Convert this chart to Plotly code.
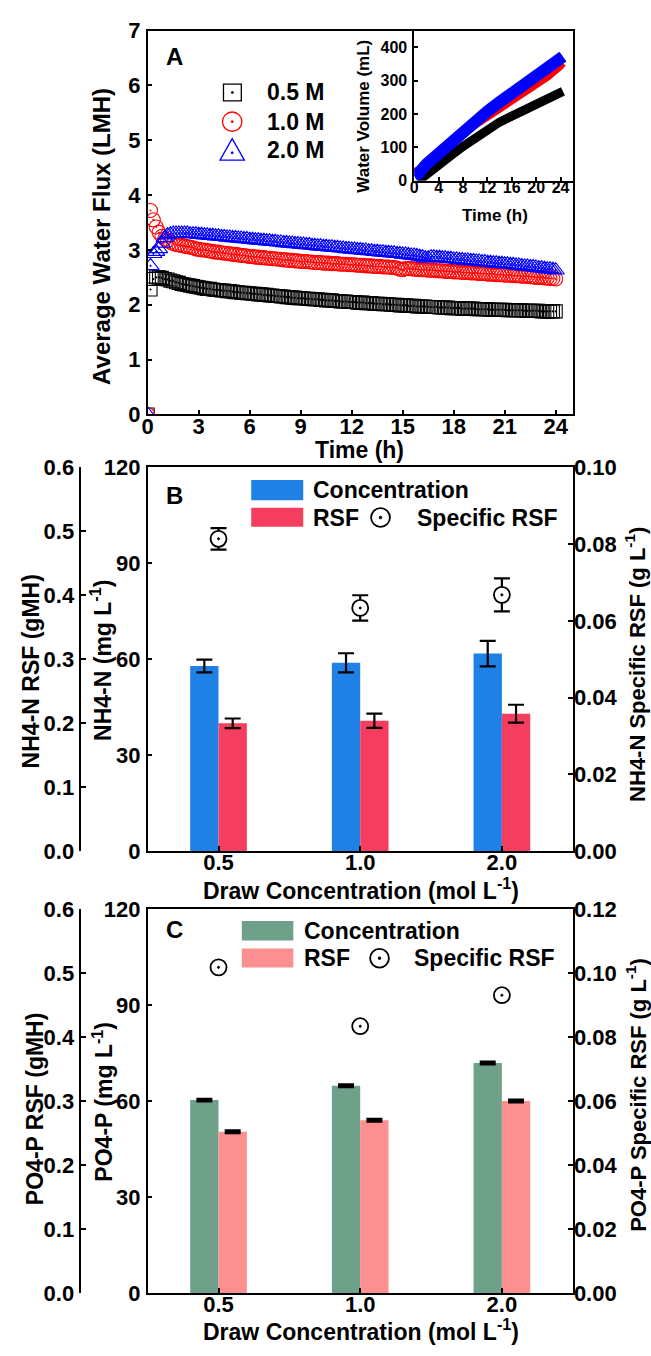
import plotly.graph_objects as go

W, H = 651, 1356
FONT = "Liberation Sans, Arial, sans-serif"


def px(x):
    return x / W


def py(y):
    return 1 - y / H


# ---------------- Panel A data ----------------
time_h = [round(k / 6, 3) for k in range(145)]  # sampling every 10 min

flux_05M = [0.0,
    2.28, 2.47, 2.50, 2.50, 2.49, 2.47,
    2.46, 2.44, 2.43, 2.41, 2.40, 2.38,
    2.37, 2.36, 2.35, 2.34, 2.33, 2.32,
    2.31, 2.30, 2.29, 2.29, 2.28, 2.27,
    2.27, 2.26, 2.26, 2.25, 2.25, 2.24,
    2.23, 2.23, 2.22, 2.22, 2.21, 2.21,
    2.20, 2.20, 2.19, 2.19, 2.18, 2.18,
    2.17, 2.17, 2.16, 2.16, 2.15, 2.15,
    2.14, 2.14, 2.13, 2.13, 2.12, 2.12,
    2.12, 2.11, 2.11, 2.10, 2.10, 2.10,
    2.09, 2.09, 2.08, 2.08, 2.08, 2.07,
    2.07, 2.06, 2.06, 2.06, 2.05, 2.05,
    2.05, 2.04, 2.04, 2.04, 2.03, 2.03,
    2.03, 2.02, 2.02, 2.02, 2.01, 2.01,
    2.01, 2.00, 2.00, 2.00, 1.99, 1.99,
    1.99, 1.98, 1.98, 1.98, 1.97, 1.97,
    1.97, 1.97, 1.96, 1.96, 1.96, 1.96,
    1.95, 1.95, 1.95, 1.95, 1.94, 1.94,
    1.94, 1.94, 1.93, 1.93, 1.93, 1.93,
    1.93, 1.92, 1.92, 1.92, 1.92, 1.92,
    1.91, 1.91, 1.91, 1.91, 1.91, 1.91,
    1.90, 1.90, 1.90, 1.90, 1.90, 1.90,
    1.89, 1.89, 1.89, 1.89, 1.89, 1.89,
    1.88, 1.88, 1.88, 1.88, 1.88, 1.88]

flux_10M = [0.0,
    3.72, 3.55, 3.42, 3.32, 3.25, 3.20,
    3.17, 3.14, 3.12, 3.10, 3.09, 3.08,
    3.07, 3.06, 3.05, 3.04, 3.02, 3.01,
    3.00, 3.00, 2.99, 2.98, 2.97, 2.96,
    2.96, 2.95, 2.94, 2.94, 2.93, 2.92,
    2.92, 2.91, 2.90, 2.90, 2.89, 2.88,
    2.88, 2.87, 2.87, 2.86, 2.86, 2.85,
    2.85, 2.84, 2.84, 2.83, 2.83, 2.82,
    2.82, 2.81, 2.81, 2.80, 2.80, 2.79,
    2.79, 2.79, 2.78, 2.78, 2.77, 2.77,
    2.77, 2.76, 2.76, 2.76, 2.75, 2.75,
    2.75, 2.74, 2.74, 2.74, 2.73, 2.73,
    2.73, 2.72, 2.72, 2.72, 2.71, 2.71,
    2.71, 2.70, 2.70, 2.70, 2.69, 2.69,
    2.69, 2.68, 2.68, 2.67, 2.65, 2.64,
    2.66, 2.66, 2.66, 2.65, 2.65, 2.64,
    2.64, 2.64, 2.63, 2.63, 2.63, 2.62,
    2.62, 2.62, 2.61, 2.61, 2.61, 2.60,
    2.60, 2.60, 2.59, 2.59, 2.59, 2.58,
    2.58, 2.58, 2.57, 2.57, 2.57, 2.56,
    2.56, 2.56, 2.55, 2.55, 2.55, 2.54,
    2.54, 2.54, 2.53, 2.53, 2.53, 2.52,
    2.52, 2.52, 2.51, 2.51, 2.50, 2.50,
    2.50, 2.49, 2.49, 2.48, 2.48, 2.47]

flux_20M = [0.0,
    2.71, 2.93, 2.97, 3.02, 3.12, 3.22,
    3.27, 3.29, 3.30, 3.30, 3.30, 3.30,
    3.30, 3.30, 3.29, 3.29, 3.29, 3.28,
    3.28, 3.27, 3.27, 3.26, 3.26, 3.25,
    3.25, 3.24, 3.24, 3.23, 3.23, 3.22,
    3.22, 3.21, 3.21, 3.20, 3.20, 3.19,
    3.19, 3.18, 3.18, 3.17, 3.17, 3.16,
    3.16, 3.15, 3.15, 3.14, 3.14, 3.13,
    3.13, 3.12, 3.12, 3.11, 3.11, 3.10,
    3.10, 3.09, 3.09, 3.08, 3.08, 3.07,
    3.07, 3.06, 3.06, 3.05, 3.05, 3.04,
    3.04, 3.03, 3.03, 3.02, 3.02, 3.01,
    3.01, 3.00, 3.00, 2.99, 2.99, 2.98,
    2.98, 2.97, 2.97, 2.96, 2.96, 2.95,
    2.95, 2.94, 2.94, 2.93, 2.93, 2.92,
    2.92, 2.91, 2.90, 2.90, 2.89, 2.88,
    2.87, 2.85, 2.85, 2.87, 2.87, 2.86,
    2.86, 2.85, 2.85, 2.84, 2.84, 2.83,
    2.83, 2.82, 2.82, 2.81, 2.81, 2.80,
    2.80, 2.79, 2.79, 2.78, 2.78, 2.77,
    2.77, 2.76, 2.76, 2.75, 2.75, 2.74,
    2.74, 2.73, 2.73, 2.72, 2.72, 2.71,
    2.70, 2.70, 2.69, 2.69, 2.68, 2.67,
    2.67, 2.66, 2.65, 2.65, 2.64, 2.63]

# Inset: cumulative water volume (mL)
inset_time = [0, 0.7, 2, 4, 6, 8, 10, 12, 14, 16, 18, 20, 22, 24, 24.4]
vol_05M = [None, 0, 20, 45, 75, 103, 130, 155, 176, 194, 212, 229, 246, 262, 268]
vol_10M = [28, 33, 56, 86, 114, 140, 166, 190, 215, 240, 264, 288, 312, 343, 352]
vol_20M = [14, 22, 50, 84, 117, 149, 179, 208, 236, 262, 288, 313, 338, 364, 372]

# ---------------- Panel B / C data ----------------
categories = ["0.5", "1.0", "2.0"]
cat_pos = [1, 2, 3]

nh4_conc = [57.9, 58.9, 61.8]
nh4_conc_err = [2.0, 3.0, 4.0]
nh4_rsf = [0.200, 0.204, 0.215]
nh4_rsf_err = [0.0075, 0.011, 0.014]
nh4_spec = [0.0814, 0.0634, 0.0668]
nh4_spec_err = [0.0028, 0.0033, 0.0043]

po4_conc = [60.3, 64.8, 71.9]
po4_conc_err = [0.3, 0.3, 0.3]
po4_rsf = [0.252, 0.270, 0.300]
po4_rsf_err = [0.0015, 0.0015, 0.0015]
po4_spec = [0.1018, 0.0834, 0.0931]

BLUE_B = "#1F80E6"
RED_B = "#F53D60"
GREEN_C = "#6FA08A"
PINK_C = "#FC8F8F"

fig = go.Figure()

# Panel A scatter
series = [
    (flux_05M, "square-open-dot", "black", 13),
    (flux_10M, "circle-open-dot", "red", 14),
    (flux_20M, "triangle-up-open-dot", "blue", 15),
]
for ys, sym, col, sz in series:
    fig.add_trace(go.Scatter(
        x=time_h, y=ys, mode="markers", xaxis="x", yaxis="y",
        marker=dict(symbol=sym, size=sz, color=col, line=dict(width=1.1, color=col)),
        showlegend=False, hoverinfo="skip"))

# Inset lines
for ys, col, w in [(vol_05M, "black", 9), (vol_10M, "red", 7), (vol_20M, "blue", 12)]:
    fig.add_trace(go.Scatter(
        x=inset_time, y=ys, mode="lines", xaxis="x2", yaxis="y2",
        line=dict(color=col, width=w), showlegend=False, hoverinfo="skip"))

# Panel B
fig.add_trace(go.Bar(
    x=cat_pos, y=nh4_conc, width=0.2, offset=-0.2, xaxis="x3", yaxis="y3",
    marker=dict(color=BLUE_B, line=dict(width=0)),
    error_y=dict(type="data", array=nh4_conc_err, color="black", thickness=2.2, width=8),
    showlegend=False))
fig.add_trace(go.Bar(
    x=cat_pos, y=nh4_rsf, width=0.2, offset=0.0, xaxis="x3", yaxis="y4",
    marker=dict(color=RED_B, line=dict(width=0)),
    error_y=dict(type="data", array=nh4_rsf_err, color="black", thickness=2.2, width=8),
    showlegend=False))
fig.add_trace(go.Scatter(
    x=cat_pos, y=nh4_spec, mode="markers", xaxis="x3", yaxis="y5",
    marker=dict(symbol="circle-dot", size=16, color="white", line=dict(width=1.8, color="black")),
    error_y=dict(type="data", array=nh4_spec_err, color="black", thickness=2.2, width=8),
    showlegend=False))

# Panel C
fig.add_trace(go.Bar(
    x=cat_pos, y=po4_conc, width=0.2, offset=-0.2, xaxis="x4", yaxis="y6",
    marker=dict(color=GREEN_C, line=dict(width=0)),
    error_y=dict(type="data", array=po4_conc_err, color="black", thickness=3, width=8),
    showlegend=False))
fig.add_trace(go.Bar(
    x=cat_pos, y=po4_rsf, width=0.2, offset=0.0, xaxis="x4", yaxis="y7",
    marker=dict(color=PINK_C, line=dict(width=0)),
    error_y=dict(type="data", array=po4_rsf_err, color="black", thickness=3, width=8),
    showlegend=False))
fig.add_trace(go.Scatter(
    x=cat_pos, y=po4_spec, mode="markers", xaxis="x4", yaxis="y8",
    marker=dict(symbol="circle-dot", size=16, color="white", line=dict(width=1.8, color="black")),
    showlegend=False))


def tf(size):
    return dict(family=FONT, size=size, color="black", weight="bold")


base = dict(showline=True, linecolor="black", linewidth=1.5, ticks="inside",
            ticklen=5, tickwidth=1.5, tickcolor="black", showgrid=False,
            zeroline=False)

XD = [px(143), px(572)]
YA = [py(410), py(19)]
YB = [py(855), py(464)]
YC = [py(1305), py(914)]

XSO = -9   # x tick label standoff (pull labels up toward axis)
RSO = -5   # right-axis label standoff

fig.update_layout(
    width=W, height=H, autosize=False,
    margin=dict(l=0, r=0, t=0, b=0),
    paper_bgcolor="white", plot_bgcolor="rgba(0,0,0,0)",
    barmode="overlay",
    font=dict(family=FONT, color="black", weight="bold"),
    xaxis=dict(base, domain=XD, anchor="y", range=[0, 25],
               tickvals=[0, 3, 6, 9, 12, 15, 18, 21, 24], mirror=True,
               tickfont=tf(22), ticklabelstandoff=XSO),
    yaxis=dict(base, domain=YA, anchor="x", range=[0, 7],
               tickvals=[0, 1, 2, 3, 4, 5, 6, 7], mirror=True,
               tickfont=tf(22), ticklabelstandoff=1),
    xaxis2=dict(base, domain=[px(412), px(572)], anchor="y2", range=[0, 26],
                tickvals=[0, 4, 8, 12, 16, 20, 24], tickfont=tf(16),
                ticklen=4, ticklabelstandoff=XSO),
    yaxis2=dict(base, domain=[py(172), py(19)], anchor="x2", range=[0, 450],
                tickvals=[0, 100, 200, 300, 400], tickfont=tf(16),
                ticklen=4, ticklabelstandoff=2),
    xaxis3=dict(base, domain=XD, anchor="y3", range=[0.5, 3.5],
                tickvals=cat_pos, ticktext=categories, mirror=True,
                tickfont=tf(22), ticklabelstandoff=XSO),
    yaxis3=dict(base, domain=YB, anchor="x3", range=[0, 120],
                tickvals=[0, 30, 60, 90, 120], tickfont=tf(22), ticklabelstandoff=1),
    yaxis4=dict(base, overlaying="y3", anchor="free", position=px(75), side="left",
                range=[0, 0.6], tickvals=[0, 0.1, 0.2, 0.3, 0.4, 0.5, 0.6],
                tickformat=".1f", tickfont=tf(22), ticklabelstandoff=1),
    yaxis5=dict(base, overlaying="y3", anchor="x3", side="right",
                range=[0, 0.1], tickvals=[0, 0.02, 0.04, 0.06, 0.08, 0.10],
                tickformat=".2f", tickfont=tf(22), ticklabelstandoff=RSO),
    xaxis4=dict(base, domain=XD, anchor="y6", range=[0.5, 3.5],
                tickvals=cat_pos, ticktext=categories, mirror=True,
                tickfont=tf(22), ticklabelstandoff=XSO),
    yaxis6=dict(base, domain=YC, anchor="x4", range=[0, 120],
                tickvals=[0, 30, 60, 90, 120], tickfont=tf(22), ticklabelstandoff=1),
    yaxis7=dict(base, overlaying="y6", anchor="free", position=px(75), side="left",
                range=[0, 0.6], tickvals=[0, 0.1, 0.2, 0.3, 0.4, 0.5, 0.6],
                tickformat=".1f", tickfont=tf(22), ticklabelstandoff=1),
    yaxis8=dict(base, overlaying="y6", anchor="x4", side="right",
                range=[0, 0.12], tickvals=[0, 0.02, 0.04, 0.06, 0.08, 0.10, 0.12],
                tickformat=".2f", tickfont=tf(22), ticklabelstandoff=RSO),
)

ann = []


def text(s, x, y, size, angle=0, xanchor="center"):
    ann.append(dict(text=s, x=px(x), y=py(y), xref="paper", yref="paper",
                    showarrow=False, textangle=angle, xanchor=xanchor,
                    yanchor="middle", font=tf(size)))


# Axis titles
text("Average Water Flux (LMH)", 97, 229, 24, -90)
text("Time (h)", 357, 446, 23)
text("Water Volume (mL)", 360, 106, 17, -90)
text("Time (h)", 494, 207, 17)

text("NH4-N RSF (gMH)", 25, 672, 23, -90)
text("NH4-N (mg L<sup>-1</sup>)", 96, 661, 23, -90)
text("NH4-N Specific RSF (g L<sup>-1</sup>)", 635, 665, 22, -90)
text("Draw Concentration (mol L<sup>-1</sup>)", 358, 893, 23)

text("PO4-P RSF (gMH)", 30, 1117, 23, -90)
text("PO4-P (mg L<sup>-1</sup>)", 97, 1110, 23, -90)
text("PO4-P Specific RSF (g L<sup>-1</sup>)", 636, 1103, 22, -90)
text("Draw Concentration (mol L<sup>-1</sup>)", 358, 1343, 23)

# Panel labels
text("A", 170.5, 45, 24)
text("B", 170.5, 493, 24)
text("C", 170.5, 935, 24)

# Panel A legend text
text("0.5 M", 261.7, 82, 23, xanchor="left")
text("1.0 M", 261.7, 112, 23, xanchor="left")
text("2.0 M", 261.7, 141, 23, xanchor="left")

# Panel B legend text
text("Concentration", 307.5, 487, 23, xanchor="left")
text("RSF", 307.5, 515, 23, xanchor="left")
text("Specific RSF", 412.5, 515, 23, xanchor="left")

# Panel C legend text
text("Concentration", 299, 936.7, 23, xanchor="left")
text("RSF", 299, 964, 23, xanchor="left")
text("Specific RSF", 410, 964, 23, xanchor="left")

shapes = []


def rect(x0, y0, x1, y1, fill=None, line=None, lw=1.3):
    shapes.append(dict(type="rect", xref="paper", yref="paper",
                       x0=px(x0), x1=px(x1), y0=py(y1), y1=py(y0),
                       fillcolor=fill if fill else "rgba(0,0,0,0)",
                       line=dict(color=line if line else "rgba(0,0,0,0)", width=lw if line else 0)))


def circ(cx, cy, r, color, lw=1.3, fill=None):
    shapes.append(dict(type="circle", xref="paper", yref="paper",
                       x0=px(cx - r), x1=px(cx + r), y0=py(cy + r), y1=py(cy - r),
                       fillcolor=fill if fill else "rgba(0,0,0,0)",
                       line=dict(color=color, width=lw)))


# Legend A symbols
rect(219.5, 73.5, 237.5, 90.5, line="black", lw=1.3)
circ(228.5, 82, 1.0, "black", lw=1, fill="black")
circ(228.3, 111.7, 9.8, "red", lw=1.3)
circ(228.3, 111.7, 1.0, "red", lw=1, fill="red")
tri = "M {} {} L {} {} L {} {} Z".format(px(228.3), py(129), px(216), py(151), px(240.6), py(151))
shapes.append(dict(type="path", xref="paper", yref="paper", path=tri,
                   line=dict(color="blue", width=1.3)))
circ(228.3, 143.5, 1.0, "blue", lw=1, fill="blue")

# Legend B symbols
rect(247.5, 476.7, 300, 497.3, fill=BLUE_B)
rect(247.5, 505, 300, 524.5, fill=RED_B)
circ(378, 515, 9.5, "black", lw=1.8)
circ(378, 515, 1.3, "black", lw=1, fill="black")

# Legend C symbols
rect(238, 926, 290, 946, fill=GREEN_C)
rect(238, 954, 290, 973.5, fill=PINK_C)
circ(377, 964, 9.5, "black", lw=1.8)
circ(377, 964, 1.3, "black", lw=1, fill="black")

fig.update_layout(annotations=ann, shapes=shapes)

fig.write_html("out.html")
